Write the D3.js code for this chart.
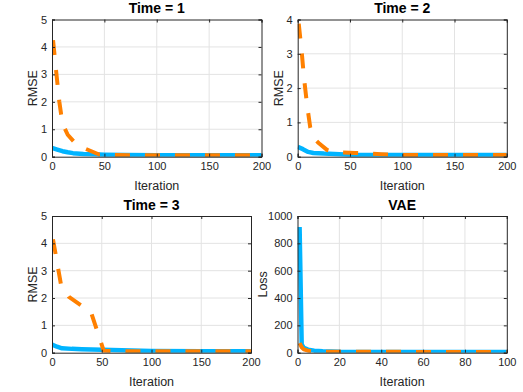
<!DOCTYPE html>
<html><head><meta charset="utf-8">
<script src="https://cdn.jsdelivr.net/npm/d3@7"></script>
<style>
html,body{margin:0;padding:0;background:#fff;}
svg{display:block;font-family:"Liberation Sans",Arial,Helvetica,sans-serif;}
</style></head>
<body>
<svg id="chart" width="523" height="392"></svg>
<script>
// ---- data ----
const titles = ["Time = 1", "Time = 2", "Time = 3", "VAE"];
const yLabels = ["RMSE", "RMSE", "RMSE", "Loss"];
const xLabel = "Iteration";

const t1BlueX = [0, 5, 10, 15, 20, 30, 40, 50, 70, 100, 150, 200];
const t1BlueY = [0.32, 0.26, 0.2, 0.16, 0.13, 0.1, 0.085, 0.075, 0.065, 0.055, 0.05, 0.05];
const t1OrangeX = [1, 4, 7, 10, 15, 22, 30, 45, 60, 80, 200];
const t1OrangeY = [4.25, 3.1, 2.0, 1.2, 0.8, 0.5, 0.32, 0.08, 0.06, 0.05, 0.05];

const t2BlueX = [0, 5, 10, 15, 25, 50, 100, 200];
const t2BlueY = [0.29, 0.22, 0.14, 0.11, 0.09, 0.06, 0.05, 0.05];
const t2OrangeX = [1, 4, 6, 9, 12, 15, 20, 28, 35, 55, 80, 100, 200];
const t2OrangeY = [3.88, 3.0, 2.3, 1.5, 0.85, 0.55, 0.4, 0.2, 0.13, 0.11, 0.07, 0.05, 0.05];

const t3BlueX = [0, 5, 10, 20, 30, 50, 70, 100, 150, 200];
const t3BlueY = [0.3, 0.22, 0.16, 0.14, 0.13, 0.11, 0.09, 0.06, 0.05, 0.05];
const t3OrangeX = [1, 9, 17, 29, 39, 52, 60, 100, 200];
const t3OrangeY = [4.15, 2.5, 2.04, 1.74, 1.5, 0.07, 0.06, 0.05, 0.05];

const vaeBlueX = [1, 2, 3, 5, 8, 12, 20, 100];
const vaeBlueY = [920, 60, 35, 22, 15, 10, 7, 5];
const vaeOrangeX = [1, 2, 3, 5, 8, 15, 100];
const vaeOrangeY = [70, 40, 25, 15, 10, 7, 5];

const xDomains = [[0, 200], [0, 200], [0, 200], [0, 100]];
const yDomains = [[0, 5], [0, 4], [0, 5], [0, 1000]];
const xTicks = [[0, 50, 100, 150, 200], [0, 50, 100, 150, 200], [0, 50, 100, 150, 200], [0, 20, 40, 60, 80, 100]];
const yTicks = [[0, 1, 2, 3, 4, 5], [0, 1, 2, 3, 4], [0, 1, 2, 3, 4, 5], [0, 200, 400, 600, 800, 1000]];

// ---- layout ----
const boxes = [
  {x0: 52, x1: 261.5, y0: 19.5, y1: 156.7, ylab: 37},
  {x0: 297.7, x1: 506.8, y0: 19.5, y1: 156.7, ylab: 282.7},
  {x0: 52, x1: 251, y0: 216, y1: 352.7, ylab: 37},
  {x0: 297.5, x1: 506.8, y0: 216, y1: 352.7, ylab: 267}
];
const blueC = "#00B4FF", orangeC = "#FF8000", axC = "#262626", gridC = "#e3e3e3";

const panels = [
  {bx: t1BlueX, by: t1BlueY, ox: t1OrangeX, oy: t1OrangeY},
  {bx: t2BlueX, by: t2BlueY, ox: t2OrangeX, oy: t2OrangeY},
  {bx: t3BlueX, by: t3BlueY, ox: t3OrangeX, oy: t3OrangeY},
  {bx: vaeBlueX, by: vaeBlueY, ox: vaeOrangeX, oy: vaeOrangeY}
];

const svg = d3.select("#chart");
svg.append("rect").attr("width", 523).attr("height", 392).attr("fill", "#fff");
const defs = svg.append("defs");

panels.forEach((p, i) => {
  const b = boxes[i];
  const x = d3.scaleLinear().domain(xDomains[i]).range([b.x0, b.x1]);
  const y = d3.scaleLinear().domain(yDomains[i]).range([b.y1, b.y0]);
  const g = svg.append("g");

  // grid
  g.append("g").selectAll("line").data(xTicks[i].slice(1, -1)).join("line")
    .attr("x1", d => x(d)).attr("x2", d => x(d)).attr("y1", b.y0).attr("y2", b.y1)
    .attr("stroke", gridC).attr("stroke-width", 1);
  g.append("g").selectAll("line").data(yTicks[i].slice(1, -1)).join("line")
    .attr("y1", d => y(d)).attr("y2", d => y(d)).attr("x1", b.x0).attr("x2", b.x1)
    .attr("stroke", gridC).attr("stroke-width", 1);

  // clip
  defs.append("clipPath").attr("id", "clip" + i).append("rect")
    .attr("x", b.x0).attr("y", b.y0).attr("width", b.x1 - b.x0).attr("height", b.y1 - b.y0);

  const line = d3.line().x(d => x(d[0])).y(d => y(d[1]));
  const blue = p.bx.map((v, k) => [v, p.by[k]]);
  const orange = p.ox.map((v, k) => [v, p.oy[k]]);
  const lg = g.append("g").attr("clip-path", `url(#clip${i})`);
  lg.append("path").attr("d", line(blue)).attr("fill", "none")
    .attr("stroke", blueC).attr("stroke-width", 4.5).attr("stroke-linejoin", "round");
  lg.append("path").attr("d", line(orange)).attr("fill", "none")
    .attr("stroke", orangeC).attr("stroke-width", 4).attr("stroke-dasharray", "15 15")
    .attr("stroke-linejoin", "round");

  // axes via d3
  const xAxis = d3.axisBottom(x).tickValues(xTicks[i]).tickSize(-3).tickPadding(6).tickFormat(d3.format("d"));
  const xAxisTop = d3.axisTop(x).tickValues(xTicks[i]).tickSize(-3).tickFormat("");
  const yAxis = d3.axisLeft(y).tickValues(yTicks[i]).tickSize(-3).tickPadding(5).tickFormat(d3.format("d"));
  const yAxisR = d3.axisRight(y).tickValues(yTicks[i]).tickSize(-3).tickFormat("");

  const style = sel => {
    sel.selectAll("path.domain").attr("stroke", axC).attr("stroke-width", 1);
    sel.selectAll(".tick line").attr("stroke", axC).attr("stroke-width", 1);
    sel.selectAll(".tick text").attr("fill", axC).style("font-size", "11px")
      .style("font-family", "'Liberation Sans',Arial,sans-serif");
  };
  g.append("g").attr("transform", `translate(0,${b.y1})`).call(xAxis).call(style);
  g.append("g").attr("transform", `translate(0,${b.y0})`).call(xAxisTop).call(style);
  g.append("g").attr("transform", `translate(${b.x0},0)`).call(yAxis).call(style);
  g.append("g").attr("transform", `translate(${b.x1},0)`).call(yAxisR).call(style);
  svg.selectAll(".domain").attr("d", function() { return d3.select(this).attr("d").replace(/M[^H V]*V[^H]*H/, m => m); });

  // title
  g.append("text").attr("x", (b.x0 + b.x1) / 2).attr("y", b.y0 - 6.3)
    .attr("text-anchor", "middle").attr("font-weight", "bold").attr("font-size", 14)
    .attr("fill", "#000").text(titles[i]);
  // x label
  g.append("text").attr("x", (b.x0 + b.x1) / 2).attr("y", b.y1 + 33.3)
    .attr("text-anchor", "middle").attr("font-size", 12.5).attr("fill", axC).text(xLabel);
  // y label
  g.append("text").attr("transform", `translate(${b.ylab},${(b.y0 + b.y1) / 2}) rotate(-90)`)
    .attr("text-anchor", "middle").attr("font-size", 12.5).attr("fill", axC).text(yLabels[i]);
});
</script>
</body></html>
